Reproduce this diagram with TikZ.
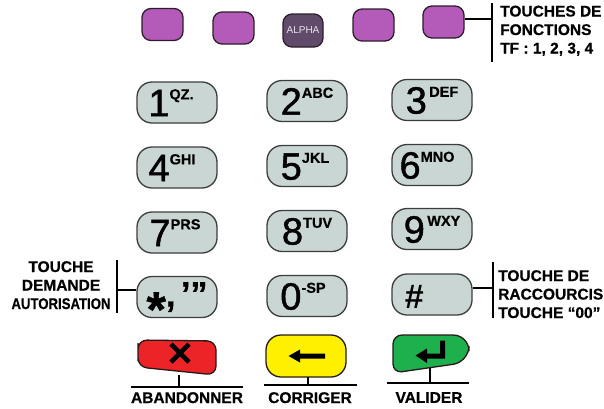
\documentclass[tikz,border=0pt]{standalone}
\usepackage{fontspec}
\setmainfont{Liberation Sans}
\usepackage{graphicx}
\definecolor{keyfill}{RGB}{201,214,211}
\definecolor{keyline}{RGB}{60,62,62}
\definecolor{fnpurple}{RGB}{180,90,184}
\definecolor{fnline}{RGB}{45,30,45}
\definecolor{alphafill}{RGB}{96,76,106}
\definecolor{alphatext}{RGB}{232,226,236}
\definecolor{redkey}{RGB}{236,36,40}
\definecolor{yellowkey}{RGB}{255,240,0}
\definecolor{greenkey}{RGB}{30,176,76}
\definecolor{darkline}{RGB}{40,25,25}
\newcommand\keytxt[2]{{\fontsize{38}{38}\selectfont\addfontfeature{FakeBold=1.2}#1}\raisebox{16.8pt}{\bfseries\fontsize{14.5}{14.5}\selectfont\addfontfeature{FakeBold=0.5}#2}}
\begin{document}
\begin{tikzpicture}[x=1pt,y=-1pt,
  numkey/.style={draw=keyline, line width=1.3pt, fill=keyfill, rounded corners=15pt,
    minimum width=80pt, minimum height=41pt, inner sep=0pt, text height=27.2pt, text depth=0pt},
  fnkey/.style={draw=fnline, line width=1.3pt, fill=fnpurple, rounded corners=9pt,
    minimum width=41pt, minimum height=32pt, inner sep=0pt},
  lbl/.style={font=\bfseries\fontsize{15.5}{18.5}\selectfont\addfontfeature{FakeBold=0.6}, inner sep=0pt},
  conn/.style={line width=1.3pt, draw=black},
  bigkey/.style={draw=darkline, line width=1.3pt}]
\useasboundingbox (0,0) rectangle (604,408);

% function keys
\node[fnkey] (f1) at (162.5,24.5) {};
\node[fnkey] (f2) at (233.5,28) {};
\node[fnkey, fill=alphafill, minimum width=40pt, minimum height=33pt,
  font=\fontsize{10}{10}\selectfont, text=alphatext] (alpha) at (303,30.5) {ALPHA};
\node[fnkey] (f4) at (373.5,25) {};
\node[fnkey] (f5) at (443.5,22) {};

% numeric keys
\node[numkey] (k1) at (177,102.5) {\keytxt{1}{QZ.}\hspace*{12pt}};
\node[numkey] (k2) at (307,101) {\keytxt{2}{ABC}};
\node[numkey] (k3) at (432,100) {\keytxt{3}{\,DEF}};
\node[numkey] (k4) at (177,167.5) {\keytxt{4}{GHI}\hspace*{10pt}};
\node[numkey] (k5) at (307,166) {\keytxt{5}{JKL}\hspace*{4pt}};
\node[numkey] (k6) at (432,165) {\keytxt{6}{MNO}\hspace*{10pt}};
\node[numkey] (k7) at (177,232.5) {\keytxt{7}{PRS}\hspace*{4pt}};
\node[numkey] (k8) at (307,231) {\keytxt{8}{TUV}};
\node[numkey] (k9) at (432,229) {\keytxt{9}{\,WXY}};
\node[numkey] (kstar) at (177,297) {\bfseries\raisebox{-16pt}{\fontsize{50}{50}\selectfont\addfontfeature{FakeBold=0.8}*}\fontsize{34}{34}\selectfont\addfontfeature{FakeBold=0.8}\raisebox{4pt}{,}\,\raisebox{5pt}{’”}};
\node[numkey] (k0) at (307,296) {\keytxt{0}{-SP}\hspace*{8pt}};
\node[numkey] (khash) at (432,294.5) {{\bfseries\fontsize{34}{34}\selectfont\#}\hphantom{\keytxt{}{\,WXY}}};

% bottom keys
\filldraw[bigkey, fill=redkey, rounded corners=9pt]
  (138,352) -- (138,340) -- (216,341) -- (216,375) -- (138,367) -- cycle;
\draw[line width=4.6pt] (171,344) -- (189,362) (171,362) -- (189,344);
\coordinate (redbot) at (179,374.5);

\filldraw[bigkey, fill=yellowkey, rounded corners=15pt]
  (266,335) rectangle (346,377);
\fill (288.5,356) -- (300,349.5) -- (300,353.5) -- (325,353.5) -- (325,358.5)
  -- (300,358.5) -- (300,362.5) -- cycle;
\coordinate (yelbot) at (308,377);

\filldraw[bigkey, fill=greenkey, rounded corners=9pt]
  (393,352) -- (393,335) [rounded corners=16pt] -- (469,335) -- (469,362)
  [rounded corners=9pt] -- (393,373) -- cycle;
\fill (440,340.5) -- (445,340.5) -- (445,358.5) -- (427,358.5) -- (427,363)
  -- (415.5,355.5) -- (427,348.5) -- (427,353.5) -- (440,353.5) -- cycle;
\coordinate (grnbot) at (430,367.5);

% bottom labels
\coordinate (redbar) at (179,387);
\coordinate (yelbar) at (308,385);
\coordinate (grnbar) at (430,383);
\draw[conn] (redbot) -- (redbar);
\draw[conn] (131,387) -- (243,387);
\draw[conn] (yelbot) -- (yelbar);
\draw[conn] (264,385) -- (357,385);
\draw[conn] (grnbot) -- (grnbar);
\draw[conn] (387,383) -- (469,383);
\node[lbl, anchor=north] (abtxt) at (187,392) {ABANDONNER};
\node[lbl, anchor=north] (cotxt) at (310,392) {CORRIGER};
\node[lbl, anchor=north] (vatxt) at (429,392) {VALIDER};

% function key label
\coordinate (tfbar) at (492,19);
\draw[conn] (f5.east |- tfbar) -- (tfbar);
\draw[conn] (492,3) -- (492,62);
\node[lbl, anchor=north west, align=left] (tflabel) at (500,5.5)
  {TOUCHES DE\\FONCTIONS\\TF : 1, 2, 3, 4};

% authorisation label
\coordinate (autbar) at (117,290);
\draw[conn] (kstar.west |- autbar) -- (autbar);
\draw[conn] (117,260) -- (117,313);
\node[lbl, anchor=north, align=center] (autlabel) at (61,261)
  {TOUCHE\\DEMANDE\\\scalebox{0.85}[1]{AUTORISATION}};

% shortcut label
\coordinate (racbar) at (493,288);
\draw[conn] (khash.east |- racbar) -- (racbar);
\draw[conn] (493,262) -- (493,318);
\node[lbl, anchor=north west, align=left] (raclabel) at (498,270)
  {TOUCHE DE\\RACCOURCIS\\TOUCHE “00”};
\end{tikzpicture}
\end{document}
